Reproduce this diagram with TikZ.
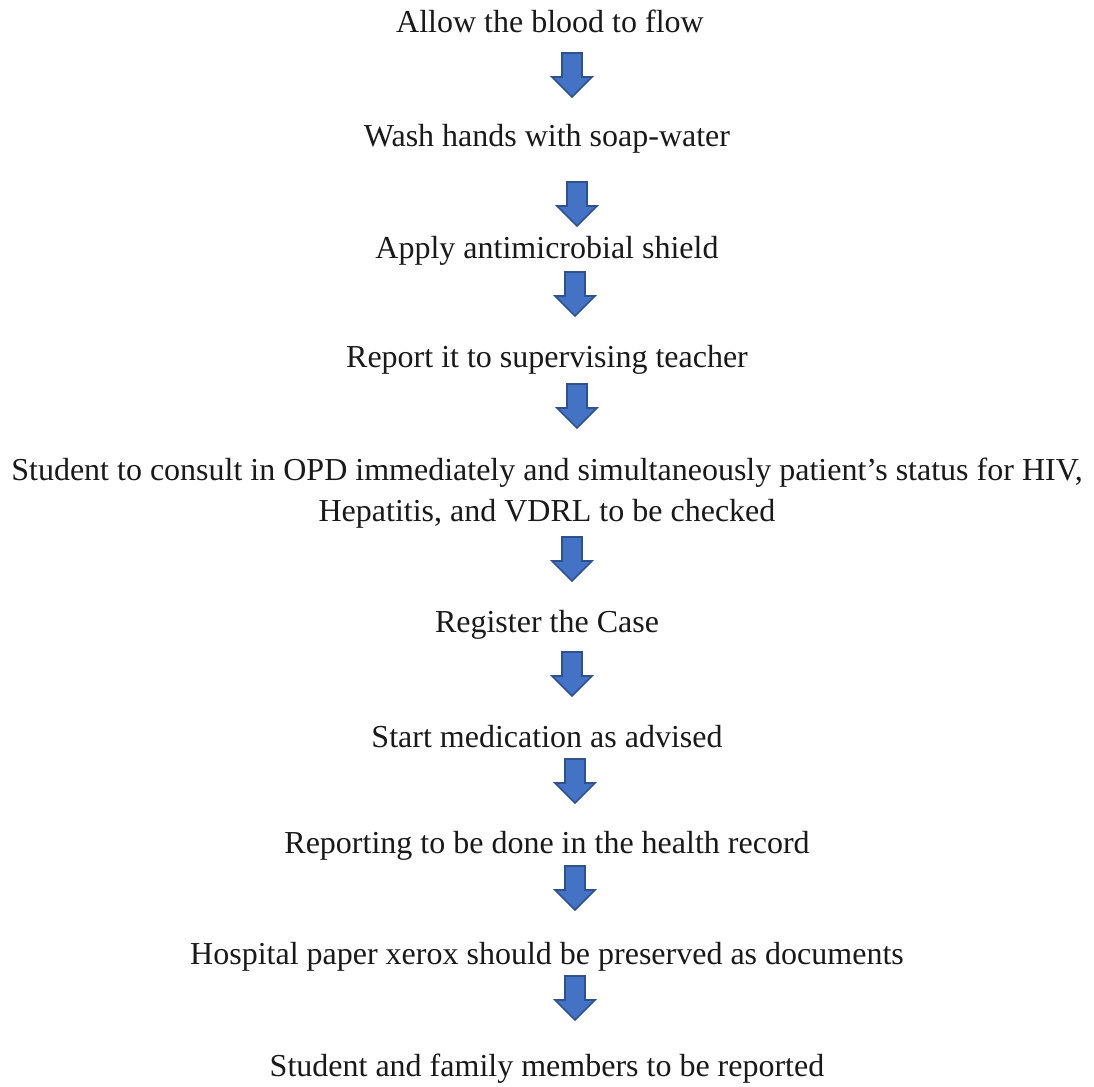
\documentclass[tikz,border=0pt]{standalone}
\usepackage{fontspec}
\setmainfont{Liberation Serif}
\definecolor{arrfill}{HTML}{4472C4}
\definecolor{arrline}{HTML}{2F528F}
\tikzset{
  stepText/.style={anchor=base, inner sep=0pt, font=\fontsize{32}{40.5}\selectfont, text=black!90},
  blockarrow/.pic={
    \filldraw[fill=arrfill, draw=arrline, line width=1.6pt, line join=miter]
      (-10,0) -- (10,0) -- (10,24) -- (20,24) -- (0,44) -- (-20,24) -- (-10,24) -- cycle;
  }
}
\begin{document}
\begin{tikzpicture}[x=1pt, y=-1pt]
\useasboundingbox (0,0) rectangle (1094,1086);
\node[stepText] (t1) at (550,33) {Allow the blood to flow};
\node[stepText] (t2) at (547,147) {Wash hands with soap-water};
\node[stepText] (t3) at (547,258) {Apply antimicrobial shield};
\node[stepText] (t4) at (547,367) {Report it to supervising teacher};
\node[stepText] (t5a) at (547,480) {Student to consult in OPD immediately and simultaneously patient’s status for HIV,};
\node[stepText] (t5b) at (547,521) {Hepatitis, and VDRL to be checked};
\node[stepText] (t6) at (547,632) {Register the Case};
\node[stepText] (t7) at (547,747) {Start medication as advised};
\node[stepText] (t8) at (547,853) {Reporting to be done in the health record};
\node[stepText] (t9) at (547,964) {Hospital paper xerox should be preserved as documents};
\node[stepText] (t10) at (547,1076) {Student and family members to be reported};
\pic at (572,53) {blockarrow};
\pic at (577,182) {blockarrow};
\pic at (575,272) {blockarrow};
\pic at (577,384) {blockarrow};
\pic at (572,537) {blockarrow};
\pic at (572,652) {blockarrow};
\pic at (575,759) {blockarrow};
\pic at (575,866) {blockarrow};
\pic at (575,976) {blockarrow};
\end{tikzpicture}
\end{document}
